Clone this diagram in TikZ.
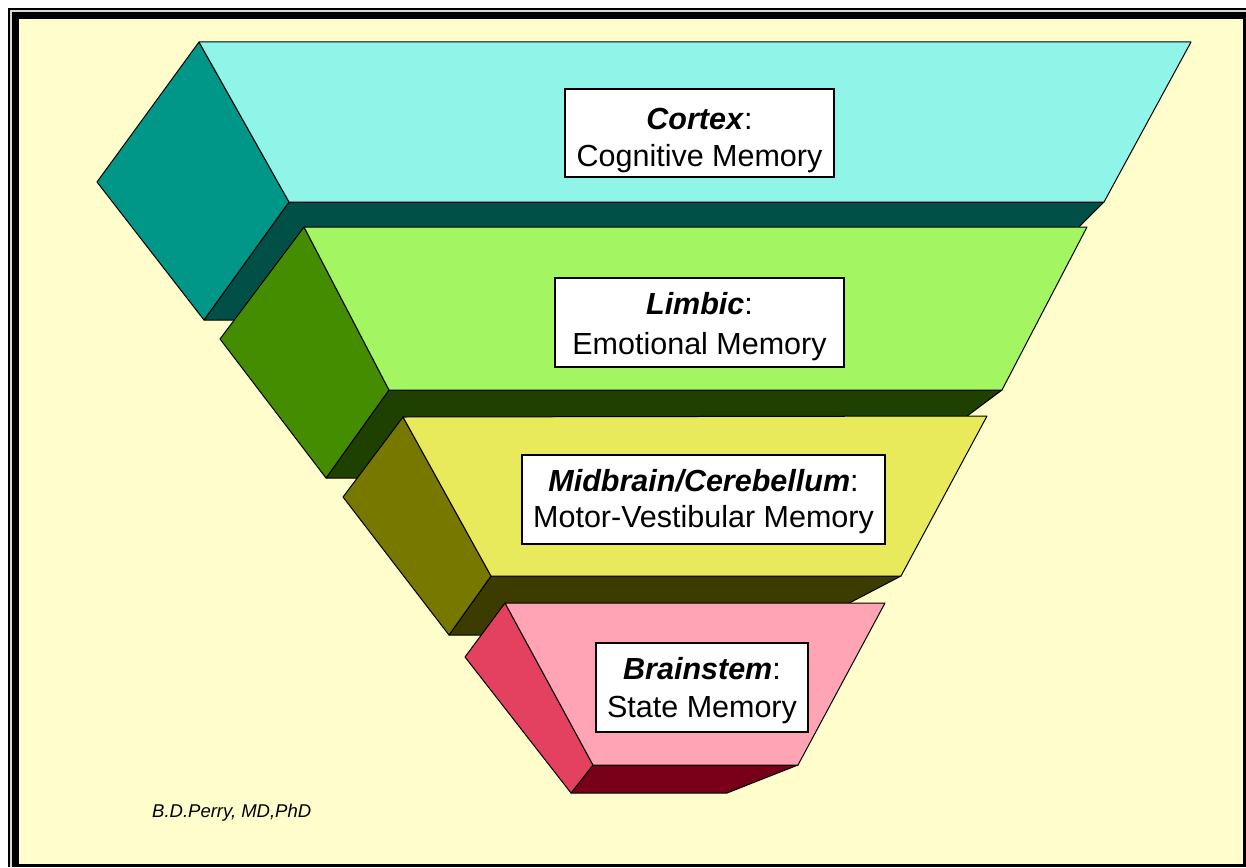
\documentclass[tikz,border=0pt]{standalone}
\usepackage{fontspec}
\setmainfont{Liberation Sans}
\usetikzlibrary{calc}
\definecolor{bg}{HTML}{FFFDCC}
\definecolor{cyanF}{HTML}{8EF5E8}
\definecolor{tealL}{HTML}{009688}
\definecolor{tealB}{HTML}{005048}
\definecolor{greenF}{HTML}{A4F562}
\definecolor{greenL}{HTML}{448C00}
\definecolor{greenB}{HTML}{1E4000}
\definecolor{yelF}{HTML}{E8EA5C}
\definecolor{yelL}{HTML}{767800}
\definecolor{yelB}{HTML}{3C3C00}
\definecolor{pinkF}{HTML}{FFA4B4}
\definecolor{pinkL}{HTML}{E44060}
\definecolor{pinkB}{HTML}{780018}
\definecolor{gapgray}{HTML}{D8D8D8}
\begin{document}
\begin{tikzpicture}[x=1pt,y=-1pt,
  face/.style={draw=black, line width=1pt, line join=round},
  lbox/.style={draw=black, fill=white, line width=1.2pt, inner sep=0pt},
  ttl/.style={font=\fontsize{30.5}{36}\selectfont, inner sep=0pt, anchor=base},
  auth/.style={font=\fontsize{18.5}{22}\selectfont\itshape, inner sep=0pt, anchor=base west}]
\useasboundingbox (0,0) rectangle (1246,867);
% frame
\fill[white] (0,0) rectangle (1246,867);
\fill[black] (8,8) rectangle (1246,867);
\fill[gapgray] (10,10) rectangle (1246,867);
\fill[black] (12,12) rectangle (1246,867);
\fill[bg] (19,19) rectangle (1243,864);
% cortex slab
\draw[face, fill=tealB] (289,202) -- (1104,202) -- (986,320) -- (204,320) -- cycle;
\draw[face, fill=tealL] (199,42) -- (97,182) -- (204,320) -- (289,202) -- cycle;
\draw[face, fill=cyanF] (199,42) -- (1191,42) -- (1104,202) -- (289,202) -- cycle;
% limbic slab
\draw[face, fill=greenB] (389,390) -- (1002,390) -- (884,478) -- (326,478) -- cycle;
\draw[face, fill=greenL] (304,227) -- (220,339) -- (326,478) -- (389,390) -- cycle;
\draw[face, fill=greenF] (304,227) -- (1087,227) -- (1002,390) -- (389,390) -- cycle;
% midbrain slab
\draw[face, fill=yelB] (491,576) -- (901,576) -- (788,635) -- (449,635) -- cycle;
\draw[face, fill=yelL] (403,417) -- (343,497) -- (449,635) -- (491,576) -- cycle;
\draw[face, fill=yelF] (403,417) -- (987,416) -- (901,576) -- (491,576) -- cycle;
% brainstem slab
\draw[face, fill=pinkB] (593,765) -- (798,765) -- (727,793) -- (571,793) -- cycle;
\draw[face, fill=pinkL] (505,603) -- (465,657) -- (571,793) -- (593,765) -- cycle;
\draw[face, fill=pinkF] (505,603) -- (885,603) -- (798,765) -- (593,765) -- cycle;
% label boxes
\node[lbox, minimum width=269pt, minimum height=88pt] (cortex) at (699.5,133) {};
\node[ttl] (cortexA) at ($(cortex.north)+(0,41)$) {\textbf{\textit{Cortex}}:};
\node[ttl] (cortexB) at ($(cortex.north)+(0,78)$) {Cognitive Memory};
\node[lbox, minimum width=289pt, minimum height=89pt] (limbic) at (699.5,322.5) {};
\node[ttl] (limbicA) at ($(limbic.north)+(0,37)$) {\textbf{\textit{Limbic}}:};
\node[ttl] (limbicB) at ($(limbic.north)+(0,77)$) {Emotional Memory};
\node[lbox, minimum width=363pt, minimum height=89pt] (midbrain) at (703.5,499.5) {};
\node[ttl] (midbrainA) at ($(midbrain.north)+(0,37)$) {\textbf{\textit{Midbrain/Cerebellum}}:};
\node[ttl] (midbrainB) at ($(midbrain.north)+(0,73)$) {Motor-Vestibular Memory};
\node[lbox, minimum width=212pt, minimum height=89pt] (brainstem) at (702,687.5) {};
\node[ttl] (brainstemA) at ($(brainstem.north)+(0,37)$) {\textbf{\textit{Brainstem}}:};
\node[ttl] (brainstemB) at ($(brainstem.north)+(0,75)$) {State Memory};
% author
\node[auth] (author) at (152,817) {B.D.Perry, MD,PhD};
\end{tikzpicture}
\end{document}
